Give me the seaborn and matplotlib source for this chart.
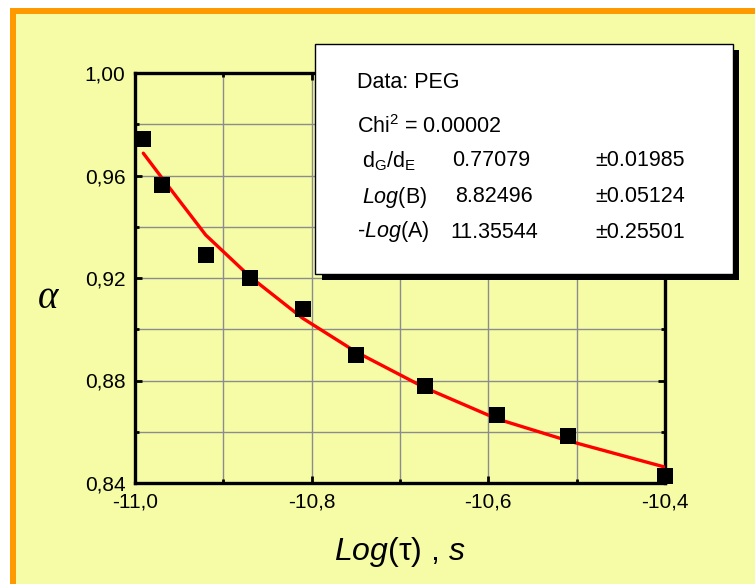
import matplotlib
matplotlib.use("Agg")
import matplotlib.pyplot as plt
import matplotlib.patches as mpatches
from matplotlib.ticker import MultipleLocator, FuncFormatter, FixedLocator
import seaborn as sns
import pandas as pd

# ---- data ----
log_tau = [-10.9906, -10.9698, -10.920, -10.8698, -10.8102, -10.750, -10.672, -10.590, -10.510, -10.400]
alpha_data = [0.9741, 0.9562, 0.9290, 0.9199, 0.9080, 0.8900, 0.8780, 0.8666, 0.8582, 0.8427]
alpha_fit = [0.9687, 0.9592, 0.9368, 0.9205, 0.9043, 0.8912, 0.8772, 0.8650, 0.8565, 0.8462]

x_major = [-11.0, -10.8, -10.6, -10.4]
y_major = [0.84, 0.88, 0.92, 0.96, 1.00]

box_title = "Data: PEG"
box_chi = r"Chi$^{2}$ = 0.00002"
param_names = [r"d$_{\mathregular{G}}$/d$_{\mathregular{E}}$", r"$Log$(B)", r"-$Log$(A)"]
param_values = ["0.77079", "8.82496", "11.35544"]
param_errors = ["\u00b10.01985", "\u00b10.05124", "\u00b10.25501"]

df = pd.DataFrame({"x": log_tau, "y": alpha_data, "fit": alpha_fit})

# ---- style ----
sns.set_style("ticks")
plt.rcParams["font.family"] = ["Liberation Sans", "DejaVu Sans"]
plt.rcParams["mathtext.fontset"] = "custom"
plt.rcParams["mathtext.rm"] = "Liberation Sans"
plt.rcParams["mathtext.it"] = "Liberation Sans:italic"
plt.rcParams["mathtext.bf"] = "Liberation Sans:bold"
plt.rcParams["axes.unicode_minus"] = False
plt.rcParams["text.color"] = "black"
plt.rcParams["axes.labelcolor"] = "black"
plt.rcParams["xtick.color"] = "black"
plt.rcParams["ytick.color"] = "black"

YELLOW = "#F5FCA5"
ORANGE = "#FF9900"

W, H = 755, 584
fig = plt.figure(figsize=(W / 100, H / 100), dpi=100)
fig.patch.set_facecolor("white")

def fx(px):
    return px / W

def fy(py):
    return 1 - py / H

# orange frame and yellow background (behind the axes)
fig.patches.append(mpatches.Rectangle((fx(10), 0), 1 - fx(10), fy(8), transform=fig.transFigure,
                                      facecolor=ORANGE, edgecolor="none", zorder=-2))
fig.patches.append(mpatches.Rectangle((fx(16), 0), 1 - fx(16), fy(14), transform=fig.transFigure,
                                      facecolor=YELLOW, edgecolor="none", zorder=-1))

ax = fig.add_axes([fx(135), fy(483), fx(665) - fx(135), fy(73) - fy(483)])
ax.set_facecolor(YELLOW)

sns.lineplot(data=df, x="x", y="fit", ax=ax, color="#FF0000", linewidth=2.4, zorder=3,
             sort=True, legend=False)
sns.scatterplot(data=df, x="x", y="y", ax=ax, marker="s", s=120, color="black",
                edgecolor="black", linewidth=0, zorder=4, legend=False, clip_on=False)

ax.set_xlim(-11.0, -10.4)
ax.set_ylim(0.84, 1.00)
ax.xaxis.set_major_locator(FixedLocator(x_major))
ax.xaxis.set_minor_locator(MultipleLocator(0.1))
ax.yaxis.set_major_locator(FixedLocator(y_major))
ax.yaxis.set_minor_locator(MultipleLocator(0.02))
ax.xaxis.set_major_formatter(FuncFormatter(lambda v, p: f"{v:.1f}".replace(".", ",")))
ax.yaxis.set_major_formatter(FuncFormatter(lambda v, p: f"{v:.2f}".replace(".", ",")))

ax.grid(True, which="both", color="#8C8C8C", linewidth=1.0, zorder=1)
ax.set_axisbelow(True)

for s in ax.spines.values():
    s.set_visible(True)
    s.set_linewidth(2.4)
    s.set_color("black")

ax.tick_params(which="both", direction="in", top=True, right=True, colors="black",
               labelsize=15, pad=7)
ax.tick_params(which="major", length=5, width=2)
ax.tick_params(which="minor", length=3, width=2)

ax.set_xlabel(r"$Log$(τ) , $s$", fontsize=23, labelpad=17)
ax.set_ylabel("α", fontsize=28, rotation=0, labelpad=0, va="center", ha="center",
              fontfamily=["Liberation Serif", "DejaVu Serif"], fontstyle="italic")
ax.yaxis.set_label_coords((48 - 135) / (665 - 135), (483 - 298) / (483 - 73))

# ---- parameter box ----
fig.patches.append(mpatches.Rectangle((fx(322), fy(280)), fx(739) - fx(322), fy(50) - fy(280),
                                      transform=fig.transFigure, facecolor="black",
                                      edgecolor="none", zorder=5))
fig.patches.append(mpatches.Rectangle((fx(315), fy(274)), fx(733) - fx(315), fy(44) - fy(274),
                                      transform=fig.transFigure, facecolor="white",
                                      edgecolor="black", linewidth=1.0, zorder=6))

fs = 15.5
fig.text(fx(357), fy(82), box_title, fontsize=fs, va="center", ha="left", zorder=7)
fig.text(fx(357), fy(127), box_chi, fontsize=fs, va="center", ha="left", zorder=7)
row_y = [161, 197, 232]
name_x = [362, 362, 357]
val_x = [452, 455, 450]
for i in range(3):
    fig.text(fx(name_x[i]), fy(row_y[i]), param_names[i], fontsize=fs, va="center", ha="left", zorder=7)
    fig.text(fx(val_x[i]), fy(row_y[i]), param_values[i], fontsize=fs, va="center", ha="left", zorder=7)
    fig.text(fx(595), fy(row_y[i]), param_errors[i], fontsize=fs, va="center", ha="left", zorder=7)

fig.savefig("out.png", dpi=100, facecolor=fig.get_facecolor())
